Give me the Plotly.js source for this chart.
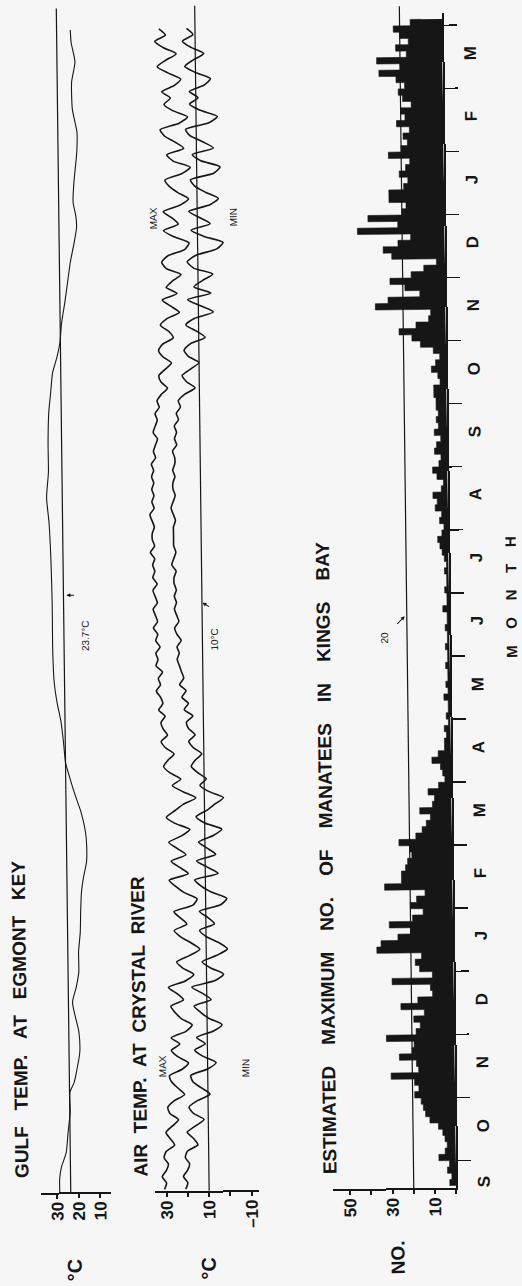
<!DOCTYPE html>
<html><head><meta charset="utf-8">
<script src="https://cdn.plot.ly/plotly-3.0.1.min.js"></script>
<style>
html,body{margin:0;padding:0;width:522px;height:1286px;overflow:hidden;background:#f6f6f6;}
#wrap{position:absolute;left:-382px;top:382px;width:1286px;height:522px;transform-origin:643px 261px;transform:rotate(-90.7deg);}
</style></head><body><div id="wrap"></div>
<script>
// time unit: months since 1 September of the first year
const monthLetters = ['S','O','N','D','J','F','M','A','M','J','J','A','S','O','N','D','J','F','M'];

// Gulf temperature at Egmont Key (deg C)
const gulfMonth = [0.57,0.78,0.97,1.2,1.52,1.84,2.16,2.31,2.47,2.79,3.11,3.58,3.82,4.06,4.38,4.69,5.01,5.33,5.56,5.8,6.04,6.28,6.59,6.91,7.23,7.39,7.7,8.02,8.34,8.66,9.13,9.92,10.56,11.19,11.59,11.99,12.46,12.94,13.25,13.57,13.81,14.05,14.36,14.68,15.0,15.32,15.63,15.87,16.05,16.27,16.58,17.06,17.38,17.74,18.17,18.49,18.8,19.0];
const gulfTemp  = [28.8,28.8,27.9,25.6,24.6,23.5,23.5,21.5,20.4,18.7,19.0,21.8,20.0,18.7,18.7,17.8,17.5,17.0,16.0,14.5,14.3,14.8,16.7,19.8,22.5,23.7,24.5,25.5,27.3,28.5,29.0,29.0,29.3,30.0,31.0,30.0,30.0,29.5,28.5,27.5,25.4,23.9,23.0,21.4,20.0,18.6,16.7,15.5,15.8,17.0,16.5,15.0,14.8,16.8,17.0,15.3,17.0,17.3];

// Air temperature at Crystal River (deg C), every tenth of a month from 0.6
const airStart = 0.6, airStep = 0.1;
const airMax = [
  31,30,32,30,
  29,31,30,26,28,30,27,24,28,29,
  26,21,24,27,28,22,19,24,27,23,
  27,20,17,22,25,27,21,24,28,20,
  16,21,24,18,13,17,22,25,19,22,
  25,16,14,20,24,27,18,22,26,19,
  23,27,21,17,24,28,24,20,14,20,
  25,21,26,29,27,24,28,30,27,29,
  30,28,31,29,30,32,30,31,29,32,
  31,32,30,32,31,33,31,32,33,31,
  32,33,31,33,32,33,32,34,32,33,
  33,32,33,34,32,33,32,33,32,33,
  32,33,31,32,31,30,32,31,30,31,
  29,30,28,25,28,29,26,23,27,29,
  27,22,24,28,25,19,23,27,20,25,
  22,18,25,27,24,16,14,21,26,19,
  22,26,18,14,19,23,25,17,13,21,
  24,16,20,25,27,18,14,21,25,22,
  26,20,17,23,28,24,19,25,29,24,
  27];
const airMin = [
  21,20,22,20,
  19,21,20,15,17,20,16,12,17,19,
  15,9,13,17,18,10,6,12,16,11,
  15,7,3,9,13,16,8,12,17,6,
  2,8,12,5,0,4,10,13,6,9,
  13,3,0,7,12,15,4,9,14,5,
  9,13,6,2,10,14,9,5,1,8,
  12,9,13,16,14,11,15,17,14,17,
  18,15,19,17,20,18,21,19,20,21,
  22,21,22,20,22,23,21,22,23,22,
  23,22,23,23,22,24,23,22,23,23,
  23,23,22,23,24,23,22,23,23,22,
  23,22,22,23,21,22,21,22,20,21,
  19,20,17,12,16,18,14,10,15,17,
  14,7,11,16,12,3,9,15,4,12,
  8,3,12,15,11,1,-2,7,13,4,
  9,14,4,0,6,11,13,2,-1,8,
  12,2,7,13,15,4,0,8,13,9,
  13,6,3,10,15,11,6,12,16,11,
  14];

// Estimated maximum number of manatees in Kings Bay, every tenth of a month from 0.6
const manStart = 0.6, manStep = 0.1;
const manatees = [
  3,2,4,3,
  8,5,4,5,6,8,12,14,15,16,
  19,17,19,30,17,18,26,20,19,32,
  18,16,19,14,25,17,10,11,29,10,
  16,18,15,36,34,26,20,30,19,14,
  20,17,13,32,24,24,22,21,19,20,
  25,17,14,12,10,15,9,8,11,6,
  3,4,5,9,6,3,3,2,3,1,
  2,1,1,3,1,2,1,1,2,1,
  1,2,1,1,2,1,1,3,1,1,
  2,1,1,2,1,2,3,4,5,3,
  2,4,3,6,5,7,3,2,5,7,
  4,3,6,5,3,6,4,5,4,5,
  5,6,6,3,4,7,5,3,6,12,
  16,22,14,8,7,33,27,12,19,26,
  16,10,4,25,29,22,16,41,22,36,
  20,18,26,26,19,17,21,18,16,26,
  20,17,19,16,22,18,20,15,19,21,
  18,22,30,20,31,17,22,16,20,23,
  15,10];

const W = 1286, H = 522;
const PX = X => X / W, PY = Y => 1 - Y / H;
const ink = '#161616';
const fam = 'Liberation Sans, Arial, sans-serif';
const bold = {family:fam, size:19, color:ink, weight:'bold'};

const seq = (s, st, n) => Array.from({length:n}, (_, i) => +(s + i*st).toFixed(3));
const airX = seq(airStart, airStep, airMax.length);
const manX = seq(manStart, manStep, manatees.length);

const traces = [
  {x: gulfMonth, y: gulfTemp, yaxis:'y', mode:'lines', line:{color:ink, width:1.1, shape:'spline', smoothing:0.6}, hoverinfo:'skip'},
  {x: airX, y: airMax, yaxis:'y2', mode:'lines', line:{color:ink, width:1.6, shape:'spline', smoothing:0.6}, hoverinfo:'skip'},
  {x: airX, y: airMin, yaxis:'y2', mode:'lines', line:{color:ink, width:1.6, shape:'spline', smoothing:0.6}, hoverinfo:'skip'},
  {x: manX, y: manatees, yaxis:'y3', mode:'lines', line:{color:ink, width:0.6, shape:'hv'}, fill:'tozeroy', fillcolor:ink, hoverinfo:'skip'}
];

const bounds = Array.from({length: monthLetters.length}, (_, i) => i + 1);
const yTickFont = {family:fam, size:17, color:ink, weight:'bold'};
const yBase = {showline:true, linewidth:2, linecolor:ink, ticks:'outside', ticklen:4, tickwidth:2, tickcolor:ink,
  showgrid:false, zeroline:false, tickmode:'array', tickfont:yTickFont, anchor:'x'};

const annotations = [];
const addText = (X, Y, text, size, xanchor) => annotations.push({
  xref:'paper', yref:'paper', x:PX(X), y:PY(Y), text:text, showarrow:false, xanchor:xanchor||'center', yanchor:'middle',
  font:Object.assign({}, bold, {size:size})});
const small = (X, Y, text) => annotations.push({xref:'paper', yref:'paper', x:PX(X), y:PY(Y), text:text, showarrow:false,
  font:{family:fam, color:ink, size:10}});
const pointer = (X, Y, ax, ay) => annotations.push({xref:'paper', yref:'paper', x:PX(X), y:PY(Y), ax:ax, ay:ay, text:'',
  showarrow:true, arrowhead:2, arrowsize:0.8, arrowwidth:1, arrowcolor:ink});

const sp = n => '\u00a0'.repeat(n);
addText(109, 15, ['GULF','TEMP.','AT','EGMONT','KEY'].join(sp(3)), 19, 'left');
addText(109, 135, ['AIR','TEMP.','AT','CRYSTAL','RIVER'].join(sp(2)), 19, 'left');
addText(109, 323, ['ESTIMATED','MAXIMUM','NO.','OF','MANATEES','IN','KINGS','BAY'].join(sp(4)), 19, 'left');
addText(18, 67, '°C', 20);
addText(18, 201, '°C', 20);
addText(27, 390, 'NO.', 19);
addText(686, 511, ['M','O','N','T','H'].join(sp(4)), 15);
small(208, 150, 'MAX'); small(207, 240, 'MIN');
small(1082, 151, 'MAX'); small(1080, 238, 'MIN');
small(652, 78, '23.7°C'); small(647, 215, '10°C'); small(647, 392, '20');
pointer(693, 67, 0, 9);
pointer(684, 203, -5, 8);
pointer(668, 405, -9, -9);
// month letters
monthLetters.forEach((m, i) => annotations.push({xref:'x', yref:'paper', x:Math.max(i + 0.55, 0.66), y:PY(489), text:m,
  showarrow:false, font:Object.assign({}, bold, {size:17})}));

const refLine = (yref, v, x1) => ({type:'line', xref:'paper', yref:yref, x0:PX(96), x1:PX(x1), y0:v, y1:v, layer:'below', line:{color:ink, width:1.2}});

const layout = {
  width:W, height:H, margin:{l:0, r:0, t:0, b:0},
  paper_bgcolor:'#f6f6f6', plot_bgcolor:'rgba(0,0,0,0)', showlegend:false,
  xaxis:{domain:[PX(96), PX(1271)], range:[0.57, 19.2], anchor:'y3', showline:true, linewidth:2, linecolor:ink,
    tickmode:'array', tickvals:bounds, ticks:'outside', ticklen:13, tickwidth:1.5, tickcolor:ink,
    showticklabels:false, showgrid:false, zeroline:false},
  yaxis:Object.assign({}, yBase, {domain:[PY(104.25), PY(34.4)], range:[5, 37.5], tickvals:[30,20,10], ticktext:['30','20','10']}),
  yaxis2:Object.assign({}, yBase, {domain:[PY(252.4), PY(148.3)], range:[-13.5, 35.5], tickvals:[30,20,10,0,-10], ticktext:['30','','10','','\u201310']}),
  yaxis3:Object.assign({}, yBase, {domain:[PY(449.6), PY(326.35)], range:[0, 58], tickvals:[50,40,30,20,10,0], ticktext:['50','','30','','10','']}),
  shapes:[refLine('y', 23.7, 1280), refLine('y2', 10, 1281), refLine('y3', 20, 1278)],
  annotations:annotations
};

Plotly.newPlot('wrap', traces, layout, {displayModeBar:false, staticPlot:true});
</script></body></html>
